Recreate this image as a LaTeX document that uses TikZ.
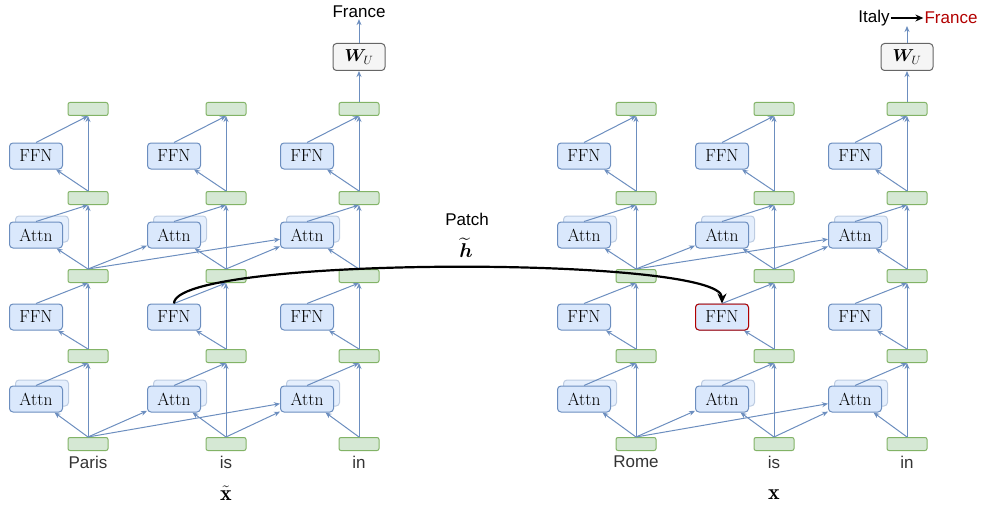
\documentclass[tikz,border=0pt]{standalone}
\usepackage{amsmath,bm}
\usepackage{fontspec}
\newfontfamily\lsans{Liberation Sans}
\usetikzlibrary{arrows.meta}
\definecolor{bfill}{HTML}{DAE8FC}
\definecolor{bdraw}{HTML}{6C8EBF}
\definecolor{gfill}{HTML}{D5E8D4}
\definecolor{gdraw}{HTML}{82B366}
\definecolor{wfill}{HTML}{F5F5F5}
\definecolor{wdraw}{HTML}{666666}
\definecolor{redd}{HTML}{B20000}
\definecolor{lbl}{HTML}{333333}
\begin{document}
\begin{tikzpicture}[x=1pt,y=-1pt,
 res/.style={draw=gdraw,fill=gfill,rounded corners=2pt,minimum width=40pt,minimum height=13pt,inner sep=0pt,line width=1pt},
 blk/.style={draw=bdraw,fill=bfill,rounded corners=3.5pt,minimum width=53pt,minimum height=26pt,inner sep=0pt,line width=1pt,font=\fontsize{17.5}{20}\selectfont},
 blkback/.style={draw=bdraw!45,fill=bfill!70,rounded corners=3.5pt,minimum width=53pt,minimum height=26pt,inner sep=0pt,line width=1pt},
 wubox/.style={draw=wdraw,fill=wfill,rounded corners=3.5pt,minimum width=52pt,minimum height=27pt,inner sep=0pt,line width=1pt,font=\fontsize{17}{20}\selectfont},
 edge/.style={draw=bdraw,line width=1pt,-{Stealth[length=6pt,width=5pt]}},
 lab/.style={font=\lsans\fontsize{17}{20}\selectfont,text=lbl,inner sep=1pt},
 toplab/.style={font=\lsans\fontsize{17}{20}\selectfont,text=black,inner sep=1pt},
 mathlab/.style={font=\fontsize{22}{24}\selectfont,inner sep=0pt}
]
\useasboundingbox (0,0) rectangle (982,508);
\foreach \s/\ox in {L/0,R/548} {
 \foreach \c/\cx in {1/88,2/226,3/359} {
  \node[res] (\s g0\c) at (\ox+\cx,444) {};
  \node[blkback] at (\ox+\cx-46,393) {};
  \node[blk] (\s a1\c) at (\ox+\cx-52,399) {Attn};
  \node[res] (\s g1\c) at (\ox+\cx,356) {};
  \node[blk] (\s f1\c) at (\ox+\cx-52,317) {FFN};
  \node[res] (\s g2\c) at (\ox+\cx,276) {};
  \node[blkback] at (\ox+\cx-46,229) {};
  \node[blk] (\s a2\c) at (\ox+\cx-52,235) {Attn};
  \node[res] (\s g3\c) at (\ox+\cx,198) {};
  \node[blk] (\s f2\c) at (\ox+\cx-52,156) {FFN};
  \node[res] (\s g4\c) at (\ox+\cx,109) {};
 }
 \node[wubox] (\s wu) at (\ox+359,57) {$\bm{W}_U$};
 \foreach \c in {1,2,3} {
  \draw[edge] (\s g0\c.north) -- (\s g1\c.south);
  \draw[edge] (\s a1\c.north) -- (\s g1\c.south);
  \draw[edge] (\s g1\c.north) -- (\s g2\c.south);
  \draw[edge] (\s g1\c.north) -- (\s f1\c);
  \draw[edge] (\s f1\c.north) -- (\s g2\c.south);
  \draw[edge] (\s g2\c.north) -- (\s g3\c.south);
  \draw[edge] (\s a2\c.north) -- (\s g3\c.south);
  \draw[edge] (\s g3\c.north) -- (\s g4\c.south);
  \draw[edge] (\s g3\c.north) -- (\s f2\c);
  \draw[edge] (\s f2\c.north) -- (\s g4\c.south);
 }
 \foreach \i/\j in {1/1,1/2,1/3,2/2,2/3,3/3} {
  \draw[edge] (\s g0\i.north) -- (\s a1\j);
  \draw[edge] (\s g2\i.north) -- (\s a2\j);
 }
 \draw[edge] (\s g43.north) -- (\s wu.south);
}
% red highlighted FFN
\node[blk,draw=redd] at (Rf12) {FFN};
% labels
\node[lab] (wL1) at (88,462) {Paris};
\node[lab] (wL2) at (226,462) {is};
\node[lab] (wL3) at (359,462) {in};
\node[lab] (wR1) at (636,462) {Rome};
\node[lab] (wR2) at (774,462) {is};
\node[lab] (wR3) at (907,462) {in};
\node[mathlab] (xt) at (226,493) {$\tilde{\mathbf{x}}$};
\node[mathlab] (xr) at (774,495) {$\mathbf{x}$};
% outputs
\node[toplab] (outL) at (359,12) {France};
\draw[edge] (Lwu.north) -- (outL.south);
\node[toplab] (italy) at (874,18) {Italy};
\node[toplab,text=redd] (france) at (951,18) {France};
\draw[line width=1.2pt,-{Stealth[length=8pt,width=7pt]}] (italy.east) -- (france.west);
\coordinate (topR) at (907,26);
\draw[edge] (Rwu.north) -- (topR);
% patch
\node[toplab,inner sep=0pt] (patch) at (467,219) {Patch};
\node[inner sep=0pt] (ht) at (466,248) {\scalebox{2}{$\widetilde{\bm{h}}$}};
\draw[line width=2.2pt,-{Stealth[length=10pt,width=9pt]}] (Lf12.north) .. controls ([yshift=48pt]Lf12.north) and ([yshift=48pt]Rf12.north) .. (Rf12.north);
\end{tikzpicture}
\end{document}
